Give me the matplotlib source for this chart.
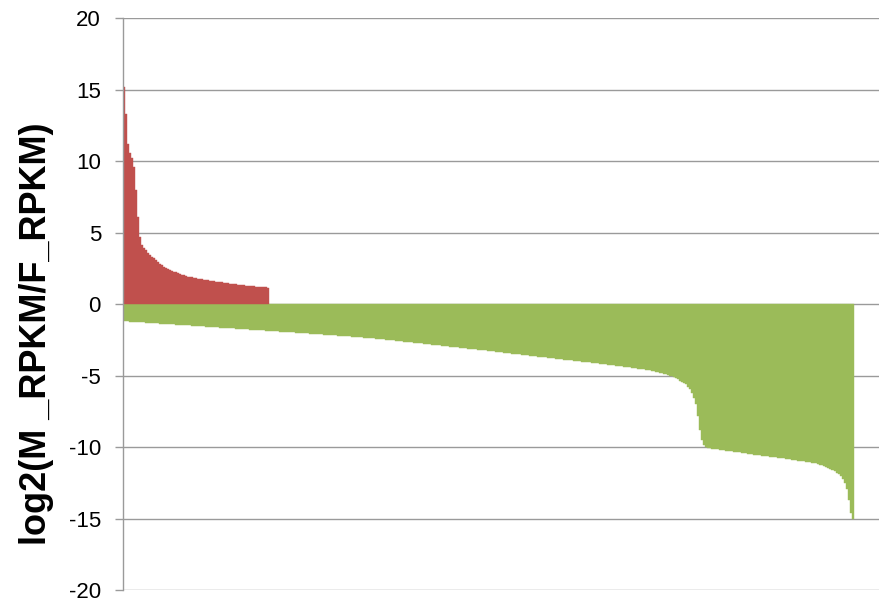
import matplotlib
matplotlib.use("Agg")
import matplotlib.pyplot as plt
import numpy as np

plt.rcParams['axes.unicode_minus'] = False
plt.rcParams['font.family'] = ['Liberation Sans', 'DejaVu Sans']

# genes with higher expression in M (sorted, descending)
male_up = [15.2, 13.3, 11.2, 10.6, 10.2, 9.6, 8.0, 6.1, 4.7, 4.15,
           3.92, 3.75, 3.60, 3.45, 3.32, 3.20, 3.05, 2.94, 2.83, 2.72,
           2.62, 2.52, 2.46, 2.40, 2.33, 2.27, 2.21, 2.16, 2.10, 2.04,
           2.00, 1.96, 1.92, 1.89, 1.86, 1.83, 1.80, 1.77, 1.75, 1.73,
           1.70, 1.68, 1.65, 1.63, 1.61, 1.59, 1.57, 1.55, 1.53, 1.51,
           1.49, 1.47, 1.45, 1.43, 1.41, 1.39, 1.38, 1.36, 1.34, 1.33,
           1.31, 1.29, 1.28, 1.26, 1.25, 1.24, 1.22, 1.21, 1.20, 1.18,
           1.17, 1.16, 1.14]

# genes with higher expression in F (sorted, descending)
female_up = [
    -1.19, -1.20, -1.21, -1.22, -1.23, -1.235, -1.24, -1.25, -1.26, -1.27,
    -1.28, -1.29, -1.30, -1.31, -1.32, -1.33, -1.34, -1.35, -1.36, -1.37,
    -1.38, -1.385, -1.39, -1.40, -1.41, -1.42, -1.43, -1.44, -1.45, -1.46,
    -1.47, -1.48, -1.49, -1.495, -1.50, -1.51, -1.52, -1.53, -1.54, -1.55,
    -1.56, -1.57, -1.58, -1.59, -1.60, -1.61, -1.62, -1.63, -1.64, -1.65,
    -1.66, -1.665, -1.67, -1.68, -1.69, -1.70, -1.71, -1.72, -1.73, -1.74,
    -1.75, -1.76, -1.77, -1.78, -1.79, -1.80, -1.81, -1.82, -1.83, -1.835,
    -1.84, -1.85, -1.86, -1.87, -1.88, -1.89, -1.90, -1.91, -1.92, -1.925,
    -1.93, -1.94, -1.95, -1.96, -1.97, -1.98, -1.99, -2.00, -2.01, -2.02,
    -2.03, -2.04, -2.05, -2.06, -2.07, -2.08, -2.09, -2.10, -2.11, -2.12,
    -2.13, -2.14, -2.15, -2.16, -2.17, -2.18, -2.19, -2.20, -2.21, -2.22,
    -2.23, -2.24, -2.25, -2.265, -2.28, -2.29, -2.30, -2.31, -2.32, -2.335,
    -2.35, -2.36, -2.37, -2.38, -2.39, -2.405, -2.42, -2.435, -2.45, -2.46,
    -2.47, -2.485, -2.50, -2.515, -2.53, -2.545, -2.56, -2.575, -2.59, -2.605,
    -2.62, -2.635, -2.65, -2.665, -2.68, -2.695, -2.71, -2.725, -2.74, -2.755,
    -2.77, -2.785, -2.80, -2.815, -2.83, -2.845, -2.86, -2.875, -2.89, -2.905,
    -2.92, -2.935, -2.95, -2.97, -2.99, -3.005, -3.02, -3.035, -3.05, -3.065,
    -3.08, -3.095, -3.11, -3.125, -3.14, -3.155, -3.17, -3.185, -3.20, -3.215,
    -3.23, -3.245, -3.26, -3.275, -3.29, -3.305, -3.32, -3.34, -3.36, -3.375,
    -3.39, -3.405, -3.42, -3.44, -3.46, -3.475, -3.49, -3.505, -3.52, -3.54,
    -3.56, -3.575, -3.59, -3.605, -3.62, -3.64, -3.66, -3.675, -3.69, -3.705,
    -3.72, -3.735, -3.75, -3.765, -3.78, -3.80, -3.82, -3.835, -3.85, -3.865,
    -3.88, -3.895, -3.91, -3.925, -3.94, -3.955, -3.97, -3.985, -4.00, -4.02,
    -4.04, -4.055, -4.07, -4.085, -4.10, -4.12, -4.14, -4.155, -4.17, -4.185,
    -4.20, -4.215, -4.23, -4.25, -4.27, -4.285, -4.30, -4.32, -4.34, -4.36,
    -4.38, -4.395, -4.41, -4.43, -4.45, -4.47, -4.49, -4.51, -4.53, -4.55,
    -4.57, -4.59, -4.61, -4.64, -4.67, -4.70, -4.74, -4.77, -4.80, -4.83,
    -4.87, -4.91, -4.95, -5.00, -5.05, -5.12, -5.20, -5.27, -5.35, -5.44,
    -5.50, -5.62, -5.77, -5.95, -6.22, -6.55, -7.00, -7.80, -8.80, -9.50,
    -9.85, -9.98, -10.04, -10.08, -10.11, -10.13, -10.15, -10.17, -10.19, -10.21,
    -10.23, -10.245, -10.26, -10.28, -10.30, -10.32, -10.34, -10.36, -10.38, -10.405,
    -10.43, -10.45, -10.47, -10.49, -10.51, -10.53, -10.55, -10.57, -10.59, -10.605,
    -10.62, -10.64, -10.66, -10.68, -10.70, -10.715, -10.73, -10.75, -10.77, -10.785,
    -10.80, -10.82, -10.84, -10.86, -10.88, -10.90, -10.92, -10.945, -10.97, -10.99,
    -11.01, -11.03, -11.05, -11.075, -11.10, -11.125, -11.15, -11.19, -11.23, -11.28,
    -11.34, -11.40, -11.47, -11.55, -11.63, -11.71, -11.80, -11.92, -12.05, -12.25,
    -12.50, -12.95, -13.70, -14.60, -15.00]

y_ticks = [-20, -15, -10, -5, 0, 5, 10, 15, 20]
y_label = 'log2(M _RPKM/F_RPKM)'

red = '#C0504D'
green = '#9BBB59'
grid_gray = '#9A9A9A'

fig = plt.figure(figsize=(8.8, 6.05), dpi=100)
ax = fig.add_axes([0.140, 0.0248, 0.859, 0.9452])

ax.bar(np.arange(len(female_up)), female_up, width=1.0, color=green,
       edgecolor=green, linewidth=0.3, zorder=2)
ax.bar(np.arange(len(male_up)), male_up, width=1.0, color=red,
       edgecolor=red, linewidth=0.3, zorder=2)

# one category = 2 px
ax.set_xlim(-0.5, 377.3)
ax.set_ylim(-20, 20)
ax.set_yticks(y_ticks)
ax.set_yticklabels([str(v) for v in y_ticks], fontsize=16)
ax.set_xticks([])

ax.yaxis.grid(True, color=grid_gray, linewidth=1.0, zorder=0)
ax.set_axisbelow(True)
ax.tick_params(axis='y', length=6, width=1.0, color=grid_gray, pad=10)

for side in ['top', 'right', 'bottom']:
    ax.spines[side].set_visible(False)
ax.spines['left'].set_color(grid_gray)
ax.spines['left'].set_linewidth(1.0)

fig.text(37 / 880, 1 - 334 / 605, y_label, rotation=90, ha='center', va='center',
         fontsize=26, fontweight='bold')

fig.savefig('out.png', dpi=100)
